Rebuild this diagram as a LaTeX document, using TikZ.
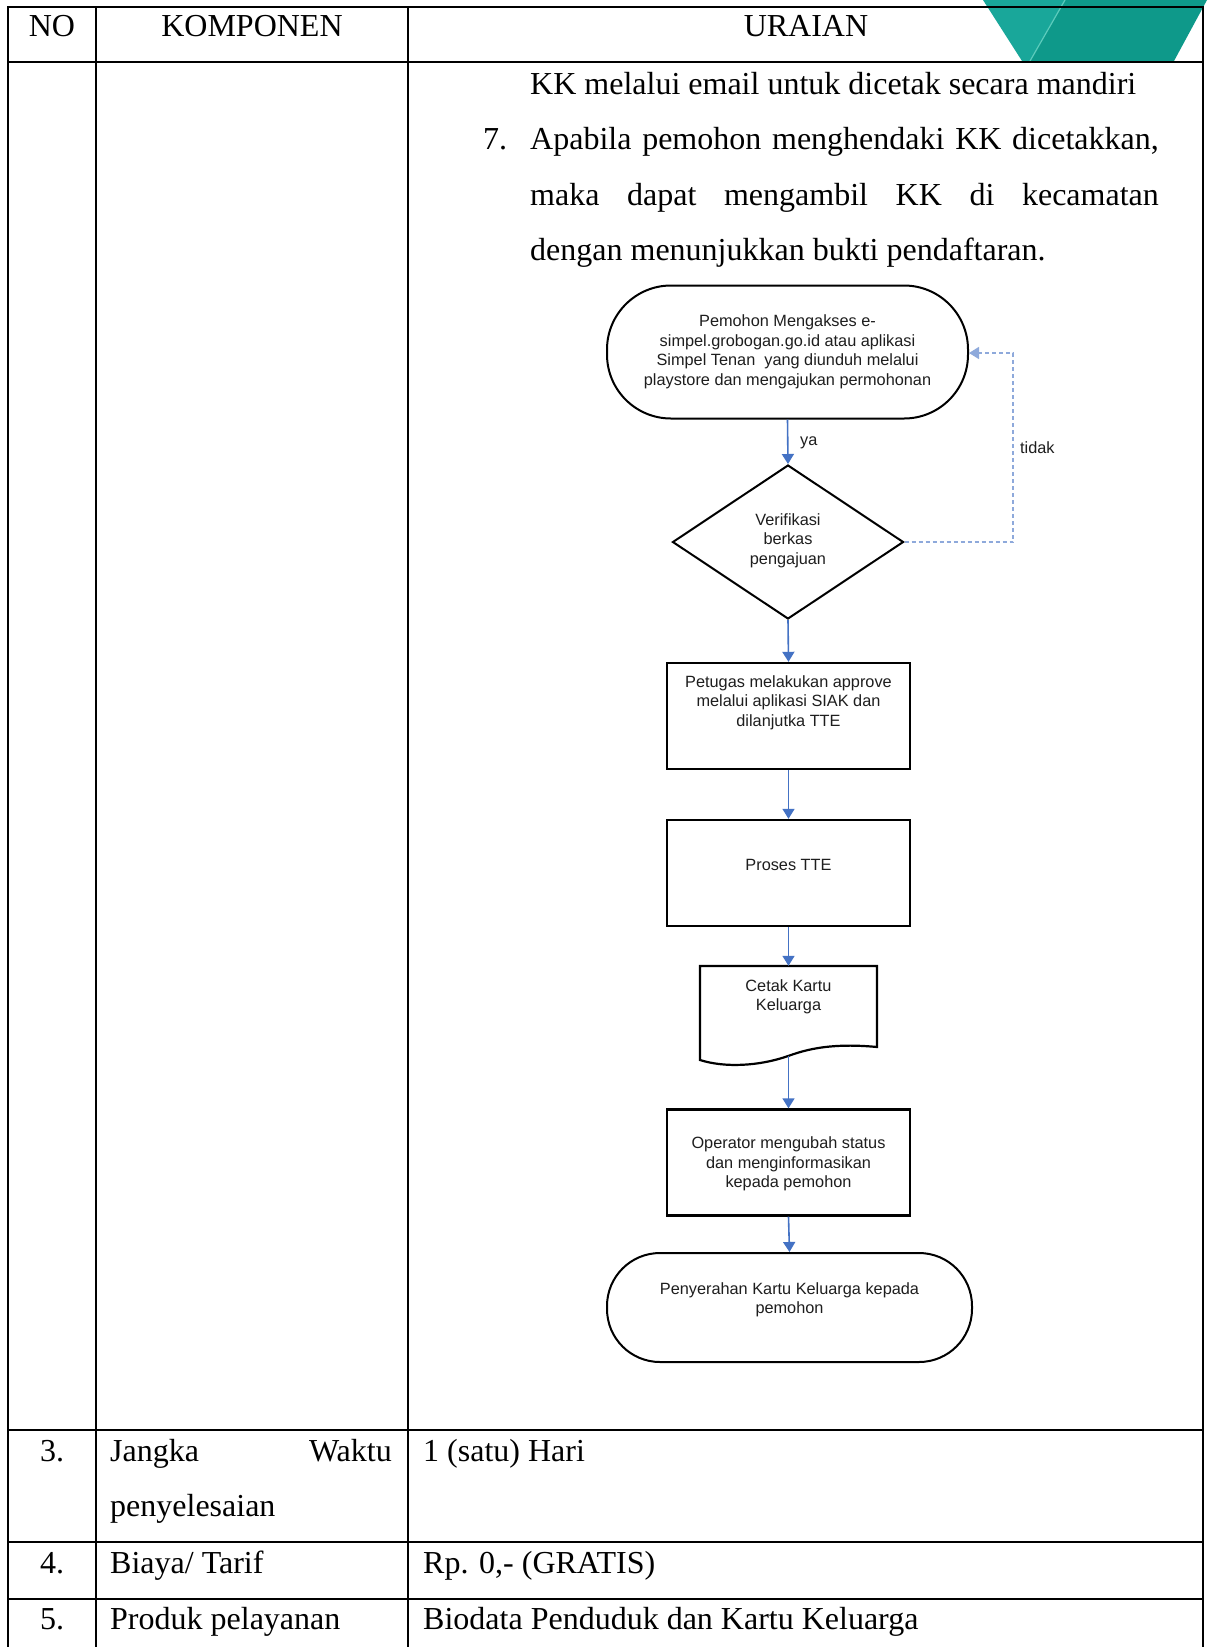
\documentclass[tikz,border=0pt]{standalone}
\usepackage{fontspec}
\setmainfont{Liberation Serif}
\newfontfamily\flowfont{Liberation Sans}
\usetikzlibrary{arrows.meta,shapes.geometric}
\definecolor{flowblue}{HTML}{4472C4}
\definecolor{loopblue}{HTML}{8EA9DB}
\definecolor{tealA}{HTML}{19A79A}
\definecolor{tealB}{HTML}{0E998A}
\definecolor{tealEdge}{HTML}{5CCBBC}
\definecolor{flowtext}{HTML}{1E1E1E}
\begin{document}
\begin{tikzpicture}[x=1pt,y=-1pt,
  tablerule/.style={line width=2.2pt,black},
  celltext/.style={font=\fontsize{32}{38}\selectfont,inner sep=0pt,anchor=base west},
  headtext/.style={font=\fontsize{32}{38}\selectfont,inner sep=0pt,anchor=base},
  flowlabel/.style={font=\flowfont\fontsize{16.3}{19.5}\selectfont,text=flowtext,align=center,inner sep=0pt},
  terminal/.style={draw,line width=2pt,minimum width=361pt,minimum height=133pt,rounded corners=64pt,inner sep=0pt},
  procbox/.style={draw,line width=2.4pt,minimum width=243pt,minimum height=106pt,inner sep=0pt},
  decision/.style={draw,diamond,line width=2pt,minimum width=231pt,minimum height=154pt,inner sep=0pt},
  flowarrow/.style={draw=flowblue,line width=1.6pt,-{Triangle[width=12pt,length=10pt]},shorten >=0pt},
  looparrow/.style={draw=loopblue,line width=1.5pt,dash pattern=on 4pt off 3pt,-{Triangle[width=12pt,length=10pt]}}
]
\useasboundingbox (0,0) rectangle (1208,1647);
\fill[white] (0,0) rectangle (1208,1647);

% corner ornament behind the header
\fill[tealA] (983,0) -- (1065,0) -- (1030,61) -- (1022,61) -- cycle;
\fill[tealB] (1065,0) -- (1207,0) -- (1174,61) -- (1030,61) -- cycle;
\draw[tealEdge,line width=1.2pt] (1065,0) -- (1030,61);

% table grid
\draw[tablerule] (8,7) -- (1203,7);
\draw[tablerule] (8,62) -- (1203,62);
\draw[tablerule] (8,1430) -- (1203,1430);
\draw[tablerule] (8,1542) -- (1203,1542);
\draw[tablerule] (8,1599) -- (1203,1599);
\draw[tablerule] (8,6) -- (8,1647);
\draw[tablerule] (96,6) -- (96,1647);
\draw[tablerule] (408,6) -- (408,1647);
\draw[tablerule] (1203,6) -- (1203,1647);

% header row
\node[headtext] (hNo) at (52,36) {NO};
\node[headtext] (hKomp) at (252,36) {KOMPONEN};
\node[headtext] (hUr) at (806,36) {URAIAN};

% description text
\node[celltext] (u1) at (530,94.5) {KK melalui email untuk dicetak secara mandiri};
\node[celltext] (u7) at (483,149.5) {7.};
\node[celltext] (u2) at (530,149.5) {\makebox[628.6pt][s]{Apabila pemohon menghendaki KK dicetakkan,}};
\node[celltext] (u3) at (530,205) {\makebox[628.6pt][s]{maka dapat mengambil KK di kecamatan}};
\node[celltext] (u4) at (530,260) {dengan menunjukkan bukti pendaftaran.};

% flowchart
\node[terminal] (start) at (787.5,352) {};
\node[flowlabel] (startT) at (787.5,352) {Pemohon Mengakses e-\\simpel.grobogan.go.id atau aplikasi\\Simpel Tenan\ \ yang diunduh melalui\\playstore dan mengajukan permohonan};

\node[decision] (verif) at (788,542) {};
\node[flowlabel] (verifT) at (788,540.5) {Verifikasi\\berkas\\pengajuan};

\node[procbox] (approve) at (788.5,716) {};
\node[flowlabel] (approveT) at (788.5,702.5) {Petugas melakukan approve\\melalui aplikasi SIAK dan\\dilanjutka TTE};

\node[procbox] (tte) at (788.5,873) {};
\node[flowlabel] (tteT) at (788.5,865) {Proses TTE};

\node[minimum width=177pt,minimum height=90pt,inner sep=0pt] (cetak) at (788.5,1011) {};
\draw[line width=2.2pt] (700,966) -- (877,966) -- (877,1047)
  .. controls (825,1042) and (800,1052) .. (788,1056)
  .. controls (760,1066) and (725,1068) .. (700,1060) -- cycle;
\node[flowlabel] (cetakT) at (788.5,997) {Cetak Kartu\\Keluarga};

\node[procbox] (operator) at (788.5,1162.5) {};
\node[flowlabel] (operatorT) at (788.5,1164) {Operator mengubah status\\dan menginformasikan\\kepada pemohon};

\node[terminal,minimum width=365pt,minimum height=109pt,rounded corners=53pt] (finish) at (789.5,1307.5) {};
\node[flowlabel] (finishT) at (789.5,1300) {Penyerahan Kartu Keluarga kepada\\pemohon};

% connectors
\draw[flowarrow] (start.south) -- (verif.north);
\draw[flowarrow] (verif.south) -- (approve.north);
\draw[flowarrow] (approve.south) -- (tte.north);
\draw[flowarrow] (tte.south) -- (cetak.north);
\draw[flowarrow] (cetak.south) -- (operator.north);
\draw[flowarrow] (operator.south) -- (finish.north);
\coordinate (loopA) at (1013,542);
\coordinate (loopB) at (1013,353);
\draw[looparrow] (verif.east) -- (loopA) -- (loopB) -- (start.east |- loopB);

\node[flowlabel,anchor=west] (ya) at (800,443) {ya};
\node[flowlabel,anchor=west] (tidak) at (1020,448) {tidak};

% lower rows
\node[headtext] (n3) at (52,1461) {3.};
\node[celltext] (k3a) at (110,1461) {Jangka};
\node[celltext,anchor=base east] (k3b) at (392,1461) {Waktu};
\node[celltext] (k3c) at (110,1516) {penyelesaian};
\node[celltext] (v3) at (423,1461) {1 (satu) Hari};

\node[headtext] (n4) at (52,1573) {4.};
\node[celltext] (k4) at (110,1573) {Biaya/ Tarif};
\node[celltext] (v4) at (423,1573) {Rp. 0,- (GRATIS)};

\node[headtext] (n5) at (52,1629) {5.};
\node[celltext] (k5) at (110,1629) {Produk pelayanan};
\node[celltext] (v5) at (423,1629) {Biodata Penduduk dan Kartu Keluarga};
\end{tikzpicture}
\end{document}
